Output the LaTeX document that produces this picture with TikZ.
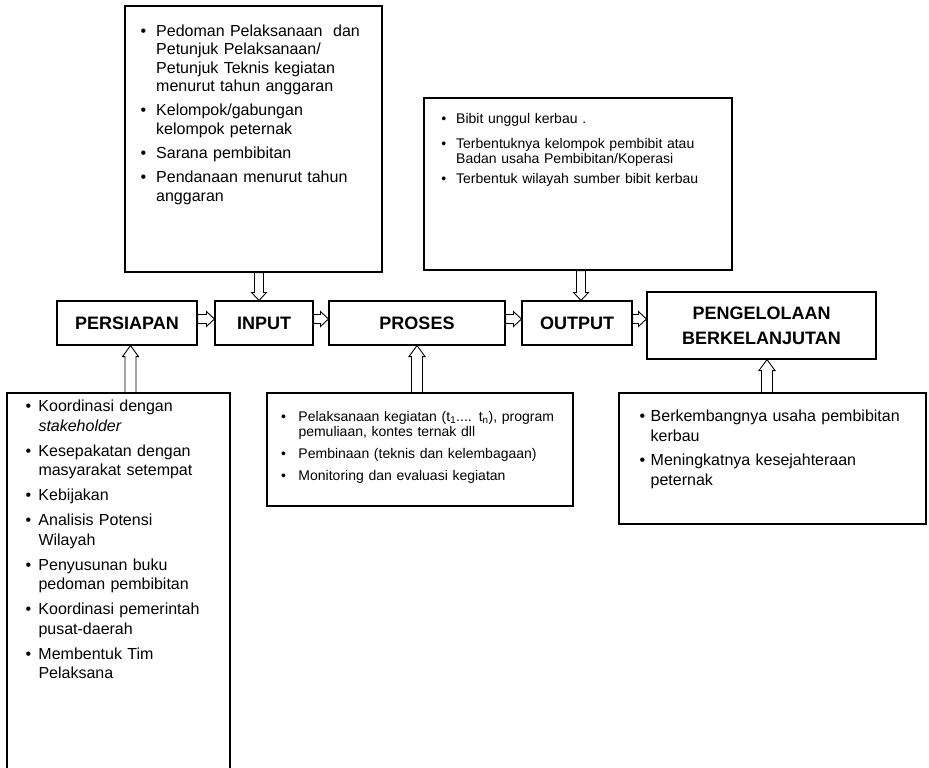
\documentclass[tikz,border=0pt]{standalone}
\usepackage{fontspec}
\setmainfont{Liberation Sans}
\usetikzlibrary{calc}
\newcommand{\bitem}[2]{\noindent\llap{\textbullet\hspace{#1}}#2\par}
\tikzset{
  box/.style={draw, line width=1.1pt, rectangle, inner sep=0pt},
  lbl/.style={font=\fontsize{18}{25}\selectfont\bfseries, align=center},
  lst/.style={anchor=base west, inner sep=0pt, text width=#1, align=left},
  blk/.style n args={3}{draw, line width=0.9pt, fill=white,
    to path={let \p1=($(\tikztotarget)!#3!(\tikztostart)$) in
      ($(\tikztostart)!#1!90:(\tikztotarget)$) -- ($(\p1)!#1!90:(\tikztotarget)$)
      -- ($(\p1)!#2!90:(\tikztotarget)$) -- (\tikztotarget)
      -- ($(\p1)!#2!-90:(\tikztotarget)$) -- ($(\p1)!#1!-90:(\tikztotarget)$)
      -- ($(\tikztostart)!#1!-90:(\tikztotarget)$) -- cycle}},
  bigarr/.style={blk={5.5pt}{8pt}{11pt}},
  smarr/.style={blk={4.5pt}{7.5pt}{8pt}},
}
\begin{document}
\begin{tikzpicture}[x=1pt, y=-1pt]
\useasboundingbox (0,0) rectangle (929,768);
\begin{scope}
\clip (0,0) rectangle (929,768);
% boxes
\node[box, minimum width=257pt, minimum height=266pt] (inbox) at (253.5,139) {};
\node[box, minimum width=308pt, minimum height=172pt] (outbox) at (578,184) {};
\node[box, lbl, minimum width=140pt, minimum height=44pt] (persiapan) at (127,323) {PERSIAPAN};
\node[box, lbl, minimum width=98pt, minimum height=44pt] (input) at (264,323) {INPUT};
\node[box, lbl, minimum width=176pt, minimum height=44pt] (proses) at (417,323) {PROSES};
\node[box, lbl, minimum width=110pt, minimum height=44pt] (output) at (577,323) {OUTPUT};
\node[box, lbl, minimum width=229pt, minimum height=67pt] (peng) at (761.5,325.5) {PENGELOLAAN\\BERKELANJUTAN};
\node[box, minimum width=223pt, minimum height=396pt] (prepbox) at (118.5,591) {};
\node[box, minimum width=306pt, minimum height=113pt] (prosbox) at (420,449.5) {};
\node[box, minimum width=307pt, minimum height=131pt] (pengbox) at (772.5,458.5) {};
\end{scope}

% texts
\node[lst=220pt, font=\fontsize{16}{18.3}\selectfont] (intext) at (156,36.7) {%
\bitem{10pt}{Pedoman Pelaksanaan\ \ dan\\Petunjuk Pelaksanaan/\\Petunjuk Teknis kegiatan\\menurut tahun anggaran}\vspace{6pt}
\bitem{10pt}{Kelompok/gabungan\\kelompok peternak}\vspace{6pt}
\bitem{10pt}{Sarana pembibitan}\vspace{6pt}
\bitem{10pt}{Pendanaan menurut tahun\\anggaran}};

\node[lst=270pt, font=\fontsize{14}{15}\selectfont] (outtext) at (456,123) {%
\bitem{10pt}{Bibit unggul kerbau .}\vspace{10pt}
\bitem{10pt}{Terbentuknya kelompok pembibit atau\\Badan usaha Pembibitan/Koperasi}\vspace{5pt}
\bitem{10pt}{Terbentuk wilayah sumber bibit kerbau}};

\node[lst=190pt, font=\fontsize{16}{19.5}\selectfont] (preptext) at (38.3,411.7) {%
\bitem{7.2pt}{Koordinasi dengan\\\textit{stakeholder}}\vspace{5.5pt}
\bitem{7.2pt}{Kesepakatan dengan\\masyarakat setempat}\vspace{5.5pt}
\bitem{7.2pt}{Kebijakan}\vspace{5.5pt}
\bitem{7.2pt}{Analisis Potensi\\Wilayah}\vspace{5.5pt}
\bitem{7.2pt}{Penyusunan buku\\pedoman pembibitan}\vspace{5.5pt}
\bitem{7.2pt}{Koordinasi pemerintah\\pusat-daerah}\vspace{5.5pt}
\bitem{7.2pt}{Membentuk Tim\\Pelaksana}};

\node[lst=270pt, font=\fontsize{14}{15}\selectfont] (prostext) at (298.3,421) {%
\bitem{12.5pt}{Pelaksanaan kegiatan (t\textsubscript{1}.... t\textsubscript{n}), program\\pemuliaan, kontes ternak dll}\vspace{7pt}
\bitem{12.5pt}{Pembinaan (teknis dan kelembagaan)}\vspace{7pt}
\bitem{12.5pt}{Monitoring dan evaluasi kegiatan}};

\node[lst=270pt, font=\fontsize{16}{19.3}\selectfont] (pengtext) at (650.5,421.7) {%
\bitem{5.5pt}{Berkembangnya usaha pembibitan\\kerbau}\vspace{5.4pt}
\bitem{5.5pt}{Meningkatnya kesejahteraan\\peternak}};

% arrows
\draw[bigarr] ([xshift=3.5pt]persiapan.south |- prepbox.north) to ([xshift=3.5pt]persiapan.south);
\draw[bigarr] (proses.south |- prosbox.north) to (proses.south);
\draw[bigarr] ([xshift=5.5pt]peng.south |- pengbox.north) to ([xshift=5.5pt]peng.south);
\draw[smarr] ([xshift=-5pt]input.north |- inbox.south) to ([xshift=-5pt]input.north);
\draw[smarr] ([xshift=4pt]output.north |- outbox.south) to ([xshift=4pt]output.north);
\draw[smarr] ([yshift=4pt]persiapan.east) to ([yshift=4pt]input.west);
\draw[smarr] ([yshift=4pt]input.east) to ([yshift=4pt]proses.west);
\draw[smarr] ([yshift=4pt]proses.east) to ([yshift=4pt]output.west);
\draw[smarr] ([yshift=4pt]output.east) to ([yshift=4pt]output.east -| peng.west);
\end{tikzpicture}
\end{document}
